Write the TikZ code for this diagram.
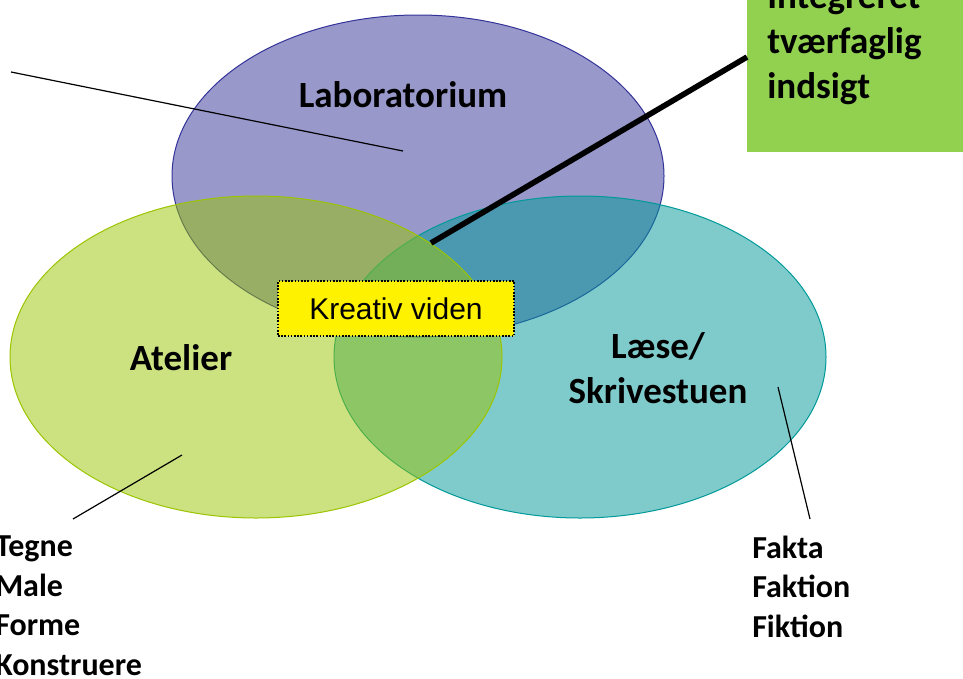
\documentclass[tikz,border=0pt]{standalone}
\usepackage{fontspec}
\setmainfont{Carlito}
\newfontfamily\arialfont{Liberation Sans}
\usetikzlibrary{shapes.geometric}
\definecolor{labc}{HTML}{333399}
\definecolor{atelc}{HTML}{9BC500}
\definecolor{laesc}{HTML}{009999}
\definecolor{boxgreen}{HTML}{92D050}
\tikzset{
  circ/.style={ellipse, minimum width=369pt, minimum height=241.5pt, inner sep=0pt, fill opacity=0.5, line width=0.75pt},
  bigtext/.style={font=\fontsize{27.75}{33.75}\selectfont\bfseries, inner sep=0pt, align=left},
  smalltext/.style={font=\fontsize{24}{29.6}\selectfont\bfseries, inner sep=0pt, align=left},
  thinline/.style={line width=0.9pt},
  thickline/.style={line width=4.2pt},
}
\begin{document}
\begin{tikzpicture}[x=0.75pt,y=-0.75pt]
\clip (0,0) rectangle (963,678);
\fill[white] (0,0) rectangle (963,678);
% circles
\node[circ, fill=labc, draw=labc] (lab) at (418,176) {};
\node[circ, fill=laesc, draw=laesc] (laes) at (580,357) {};
\node[circ, fill=atelc, draw=atelc] (atel) at (256,357) {};
% labels
\node[bigtext, anchor=base] (tlab) at (403,107) {Laboratorium};
\node[bigtext, anchor=base] (tatel) at (181,370) {Atelier};
\node[bigtext, anchor=base, align=center] (tlaes) at (658,403) {Læse/\\Skrivestuen};
% green box
\node[fill=boxgreen, minimum width=180pt, minimum height=150pt, anchor=south west, inner sep=0pt] (gbox) at (747,152) {};
\node[bigtext, anchor=base west] (gtext) at (767,98) {Integreret\\tværfaglig\\indsigt};
% bottom texts
\node[smalltext, anchor=base west] (ltext) at (-5,675) {Tegne\\Male\\Forme\\Konstruere};
\node[smalltext, anchor=base west] (rtext) at (752,637) {Fakta\\Faktion\\Fiktion};
% connectors
\coordinate (l1a) at (11,72);
\coordinate (l1b) at (403,151);
\coordinate (l2a) at (747,57);
\coordinate (l2b) at (431,243);
\coordinate (l3a) at (73,519);
\coordinate (l3b) at (182,455);
\coordinate (l4a) at (778,387);
\coordinate (l4b) at (810,519);
\draw[thinline] (l1a) -- (l1b);
\draw[thickline] (l2a) -- (l2b);
\draw[thinline] (l3a) -- (l3b);
\draw[thinline] (l4a) -- (l4b);
% kreativ viden
\node[draw=black, fill=yellow, line width=1pt, dash pattern=on 1.2pt off 1.2pt, minimum width=177pt, minimum height=41.25pt, inner sep=0pt, font=\arialfont\fontsize{22.5}{27}\selectfont] (kv) at (396,308.5) {Kreativ viden};
\end{tikzpicture}
\end{document}
